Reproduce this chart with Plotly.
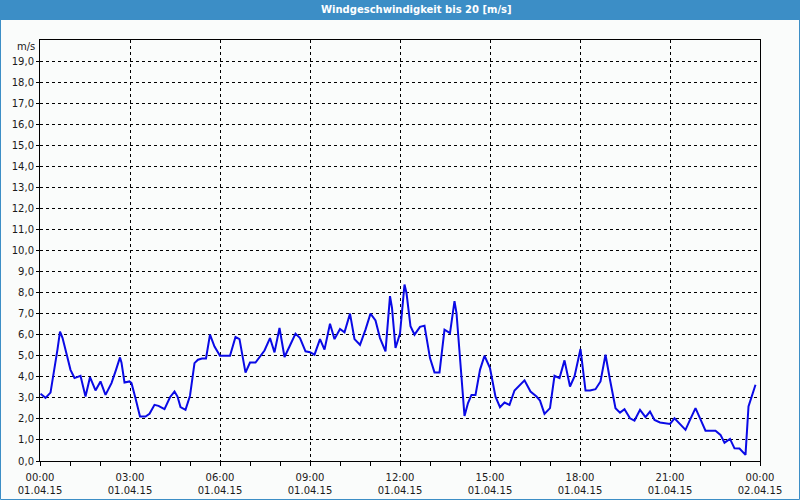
import pandas as pd
import plotly.graph_objects as go

# minutes after 01.04.15 00:00
minutes = [1, 11, 21, 28, 35, 40, 45, 53, 61, 69, 75, 81, 91, 100, 111, 121, 131, 143, 152, 160,
           163, 169, 179, 183, 191, 200, 211, 219, 229, 237, 249, 260, 269, 275, 281, 291, 300, 309,
           316, 324, 332, 340, 349, 360, 369, 380, 391, 399, 411, 420, 431, 440, 449, 460, 469, 479,
           489, 499, 511, 520, 531, 540, 549, 560, 569, 580, 589, 600, 609, 620, 629, 640, 651, 661,
           671, 680, 691, 700, 704, 711, 720, 729, 733, 741, 749, 760, 769, 780, 789, 799, 809, 820,
           829, 833, 849, 856, 863, 871, 880, 889, 900, 911, 920, 929, 939, 949, 956, 965, 969, 981,
           993, 1000, 1009, 1020, 1029, 1039, 1049, 1060, 1069, 1081, 1091, 1100, 1111, 1121, 1131,
           1140, 1151, 1160, 1169, 1180, 1189, 1200, 1211, 1220, 1229, 1240, 1249, 1260, 1269, 1280,
           1291, 1300, 1311, 1321, 1331, 1340, 1351, 1361, 1369, 1380, 1389, 1399, 1411, 1417, 1424,
           1431]
speed = [3.2, 3.0, 3.25, 4.2, 5.3, 6.15, 5.85, 5.1, 4.33, 3.94, 4.0, 4.05, 3.06, 3.98, 3.35, 3.78,
         3.14, 3.7, 4.33, 4.92, 4.67, 3.73, 3.78, 3.7, 2.98, 2.11, 2.11, 2.24, 2.67, 2.62, 2.46, 3.03,
         3.3, 3.06, 2.56, 2.43, 3.1, 4.65, 4.81, 4.87, 4.87, 6.0, 5.44, 5.0, 5.0, 5.0, 5.89, 5.79, 4.2,
         4.68, 4.68, 4.94, 5.25, 5.84, 5.16, 6.32, 4.94, 5.44, 6.05, 5.84, 5.21, 5.17, 5.05, 5.79, 5.29,
         6.52, 5.79, 6.27, 6.11, 7.0, 5.79, 5.52, 6.24, 7.0, 6.68, 5.84, 5.21, 7.83, 7.27, 5.37, 6.05,
         8.38, 7.98, 6.4, 6.0, 6.37, 6.43, 4.89, 4.21, 4.21, 6.24, 6.08, 7.59, 7.03, 2.14, 2.75, 3.14,
         3.14, 4.33, 5.0, 4.41, 3.06, 2.56, 2.78, 2.67, 3.35, 3.51, 3.7, 3.83, 3.3, 3.06, 2.87, 2.24,
         2.51, 4.05, 3.94, 4.78, 3.54, 4.02, 5.32, 3.35, 3.35, 3.41, 3.78, 5.05, 3.86, 2.51, 2.3, 2.46,
         2.03, 1.92, 2.43, 2.08, 2.35, 1.95, 1.83, 1.79, 1.76, 2.03, 1.75, 1.48, 1.95, 2.51, 1.98, 1.44,
         1.44, 1.44, 1.24, 0.87, 1.05, 0.6, 0.59, 0.29, 2.59, 3.06, 3.62]

title_text = "Windgeschwindigkeit bis 20 [m/s]"
unit_text = "m/s"
x_start = "2015-04-01 00:00"
x_end = "2015-04-02 00:00"
y_max = 20

times = pd.Timestamp(x_start) + pd.to_timedelta(minutes, unit="min")

BG = "#FAFCFB"
BLUE_BAR = "#3C8EC6"
FONT = "DejaVu Sans"

fig = go.Figure(go.Scatter(x=times, y=speed, mode="lines",
                           line=dict(color="#0A0AE6", width=2), hoverinfo="skip"))

W, H = 800, 500
ml, mr, mt, mb = 40, 40, 40, 39
pw, ph = W - ml - mr, H - mt - mb

def px_x(p):
    return (p - ml) / pw

def px_y(p):
    return (H - mb - p) / ph

fig.update_layout(
    width=W, height=H,
    margin=dict(l=ml, r=mr, t=mt, b=mb),
    paper_bgcolor=BG, plot_bgcolor=BG,
    separators=",.",
    showlegend=False,
    font=dict(family=FONT, size=10, color="#1a1a1a"),
    xaxis=dict(
        range=[x_start, x_end], type="date", automargin=False,
        dtick=3 * 3600000, tick0=x_start,
        tickformat="%H:%M<br>%d.%m.%y",
        showgrid=True, gridcolor="black", griddash="3px,3px", gridwidth=1,
        showline=True, linecolor="black", linewidth=1, mirror=True,
        ticks="outside", ticklen=4, tickcolor="black", ticklabelstandoff=3,
        minor=dict(dtick=3600000, ticks="outside", ticklen=4, tickcolor="black", showgrid=False),
        zeroline=False,
    ),
    yaxis=dict(
        range=[0, y_max], dtick=1, tick0=0, tickformat=".1f", automargin=False,
        showgrid=True, gridcolor="black", griddash="3px,3px", gridwidth=1,
        showline=True, linecolor="black", linewidth=1, mirror=True,
        ticks="outside", ticklen=3, tickcolor="black", ticklabelstandoff=0,
        zeroline=False,
        tickvals=list(range(0, y_max)),
    ),
    shapes=[
        dict(type="rect", xref="paper", yref="paper",
             x0=px_x(0), x1=px_x(W), y0=px_y(20), y1=px_y(0),
             fillcolor=BLUE_BAR, line=dict(width=0), layer="above"),
        dict(type="rect", xref="paper", yref="paper",
             x0=px_x(0.5), x1=px_x(W - 0.5), y0=px_y(H - 0.5), y1=px_y(0.5),
             fillcolor="rgba(0,0,0,0)", line=dict(color=BLUE_BAR, width=1), layer="above"),
    ],
    annotations=[
        dict(text="<b>" + title_text + "</b>", xref="paper", yref="paper",
             x=px_x(416), y=px_y(10), showarrow=False,
             font=dict(family=FONT, size=10, color="white"), xanchor="center", yanchor="middle"),
        dict(text=unit_text, xref="paper", yref="paper",
             x=px_x(37), y=px_y(46), showarrow=False,
             font=dict(family=FONT, size=10, color="#1a1a1a"), xanchor="right", yanchor="middle"),
    ],
)

fig.write_html("out.html")
